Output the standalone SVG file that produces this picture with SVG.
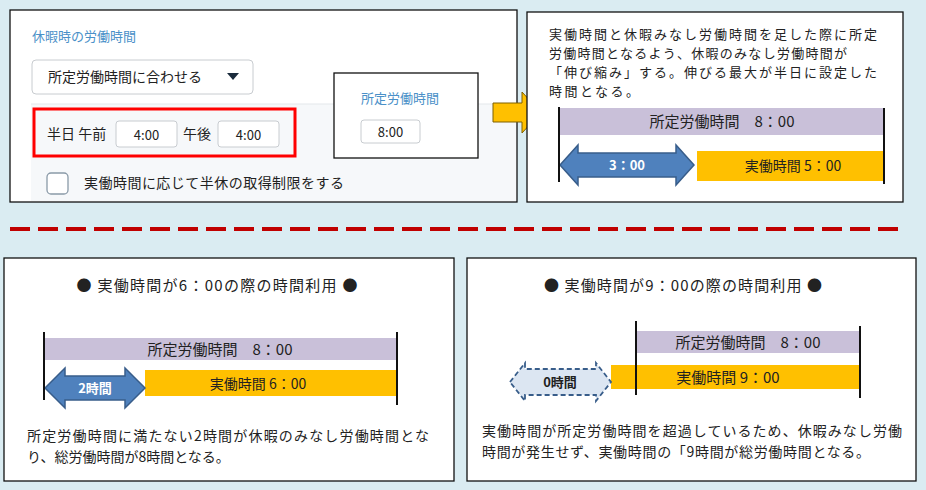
<svg xmlns="http://www.w3.org/2000/svg" width="926" height="490" viewBox="0 0 926 490">
<style>
text{font-family:"Noto Sans CJK JP","Liberation Sans",sans-serif;fill:#222}
.box{fill:#fff;stroke:#111;stroke-width:1.3}
.blue{fill:#4a90c8}
.in{fill:#fff;stroke:#c8ccd0;stroke-width:1}
.t13{font-size:13px}
.t14{font-size:14px}
.t15{font-size:15px}
.pur{fill:#c9c0d9}
.org{fill:#ffc000}
.vl{stroke:#111;stroke-width:2}
</style>
<rect width="926" height="490" fill="#daecf2"/>
<g id="settings">
<rect class="box" x="10" y="10" width="507" height="192"/>
<rect x="31" y="104" width="485" height="97" fill="#f6f8fa"/>
<line x1="31" y1="104" x2="516" y2="104" stroke="#e3e7ea"/>
<text x="32" y="41" class="t13 blue">休暇時の労働時間</text>
<rect class="in" x="32" y="60" width="221" height="34" rx="4"/>
<text x="48" y="82" class="t14">所定労働時間に合わせる</text>
<path d="M227,73 h12 l-6,7z" fill="#1a2b3c"/>
<rect x="34" y="109" width="261" height="47" fill="none" stroke="#f00" stroke-width="3"/>
<text x="47" y="139" class="t14">半日 午前</text>
<rect class="in" x="116" y="121" width="61" height="26" rx="3"/>
<text x="146.5" y="140" class="t13" text-anchor="middle">4:00</text>
<text x="183" y="139" class="t14">午後</text>
<rect class="in" x="218" y="121" width="61" height="26" rx="3"/>
<text x="248.5" y="140" class="t13" text-anchor="middle">4:00</text>
<rect x="47" y="173" width="21" height="21" rx="4" fill="#fff" stroke="#8a9aa8" stroke-width="1.3"/>
<text x="84" y="188" class="t14" textLength="260">実働時間に応じて半休の取得制限をする</text>
</g>
<g id="std-box">
<rect class="box" x="334" y="73" width="144" height="85"/>
<text x="361" y="103" class="t13 blue">所定労働時間</text>
<rect class="in" x="361" y="120" width="59" height="23" rx="3"/>
<text x="390.5" y="137" class="t13" text-anchor="middle">8:00</text>
</g>
<g id="connectors">
<path d="M493,103 h29 v-11 l19,20.5 l-19,20.5 v-11 h-29z" fill="#ffc000" stroke="#7f6000" stroke-width="1"/>
<line x1="10" y1="229" x2="905" y2="229" stroke="#c00000" stroke-width="4" stroke-dasharray="20,8"/>
</g>
<g id="explain">
<rect class="box" x="527" y="12" width="376" height="190"/>
<text x="549" y="39" class="t13" textLength="328">実働時間と休暇みなし労働時間を足した際に所定</text>
<text x="549" y="58" class="t13" textLength="298">労働時間となるよう、休暇のみなし労働時間が</text>
<text x="549" y="77" class="t13" textLength="328">「伸び縮み」する。伸びる最大が半日に設定した</text>
<text x="549" y="96" class="t13" textLength="90">時間となる。</text>
<rect class="pur" x="559" y="108" width="325" height="27"/>
<text x="722" y="127" class="t15" text-anchor="middle">所定労働時間　8：00</text>
<rect class="org" x="697" y="151" width="187" height="30"/>
<text x="793" y="171" class="t14" text-anchor="middle">実働時間 5：00</text>
<path d="M560,165 l18,-20 v8 h98 v-8 l18,20 l-18,20 v-8 h-98 v8z" fill="#4f81bd" stroke="#385d8a" stroke-width="1.5"/>
<text x="627" y="170" font-size="13" font-weight="bold" text-anchor="middle" style="fill:#fff">3：00</text>
<line class="vl" x1="559" y1="107" x2="559" y2="182"/>
<line class="vl" x1="884" y1="108" x2="884" y2="184"/>
</g>
<g id="case6">
<rect class="box" x="4" y="258" width="450" height="223"/>
<text x="217" y="291" class="t15" text-anchor="middle" textLength="281">● 実働時間が6：00の際の時間利用 ●</text>
<rect class="pur" x="44" y="338" width="353" height="22"/>
<text x="220" y="355" class="t15" text-anchor="middle">所定労働時間　8：00</text>
<rect class="org" x="145" y="370" width="252" height="26"/>
<text x="258" y="389" class="t14" text-anchor="middle">実働時間 6：00</text>
<path d="M45,388 l20,-20 v8 h60 v-8 l20,20 l-20,20 v-8 h-60 v8z" fill="#4f81bd" stroke="#385d8a" stroke-width="1.5"/>
<text x="95" y="393" font-size="13" font-weight="bold" text-anchor="middle" style="fill:#fff">2時間</text>
<line class="vl" x1="44" y1="332" x2="44" y2="400"/>
<line class="vl" x1="397" y1="332" x2="397" y2="405"/>
<text x="27" y="441" class="t14" textLength="402">所定労働時間に満たない2時間が休暇のみなし労働時間とな</text>
<text x="27" y="462" class="t14">り、総労働時間が8時間となる。</text>
</g>
<g id="case9">
<rect class="box" x="467" y="258" width="449" height="223"/>
<text x="683" y="291" class="t15" text-anchor="middle" textLength="278">● 実働時間が9：00の際の時間利用 ●</text>
<rect class="pur" x="636" y="331" width="224" height="22"/>
<text x="748" y="348" class="t15" text-anchor="middle">所定労働時間　8：00</text>
<rect class="org" x="611" y="365" width="249" height="24"/>
<text x="728" y="383" class="t15" text-anchor="middle">実働時間 9：00</text>
<path d="M510,382 l15,-19 v6 h71 v-6 l15,19 l-15,19 v-6 h-71 v6z" fill="#dce6f2" stroke="#385d8a" stroke-width="1.8" stroke-dasharray="5,3"/>
<text x="560" y="387" font-size="13" font-weight="bold" text-anchor="middle">0時間</text>
<line class="vl" x1="636" y1="321" x2="636" y2="395"/>
<line class="vl" x1="860" y1="326" x2="860" y2="398"/>
<text x="482" y="436" class="t14" textLength="420">実働時間が所定労働時間を超過しているため、休暇みなし労働</text>
<text x="482" y="457" class="t14" textLength="388">時間が発生せず、実働時間の「9時間が総労働時間となる。</text>
</g>
</svg>
